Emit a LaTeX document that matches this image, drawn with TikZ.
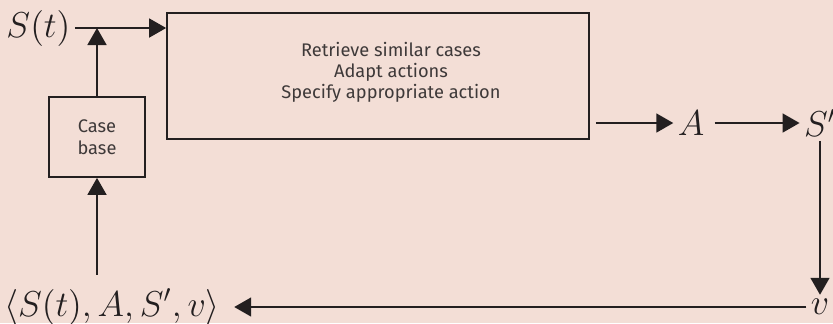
\documentclass[tikz,border=0pt]{standalone}
\usepackage{fontspec}
\newfontfamily\boxfont{Fira Sans}
\usetikzlibrary{arrows.meta, positioning}
\definecolor{bgpink}{RGB}{243,222,214}
\definecolor{inkdark}{RGB}{35,31,32}
\definecolor{boxtext}{RGB}{62,57,57}
\tikzset{
	x=0.4pt, y=-0.4pt,
	flow/.style={-{Triangle[length=6.8pt, width=7.6pt]}, line width=0.7pt, draw=inkdark},
	procbox/.style={draw=inkdark, line width=0.7pt, text=boxtext, align=center,
		font=\boxfont\fontsize{7.3}{8.7}\selectfont},
	mathlbl/.style={text=inkdark, inner sep=1.6pt, font=\fontsize{13.8}{16}\selectfont}
}

\begin{document}
\begin{tikzpicture}
\fill[bgpink] (0,0) rectangle (833,323);
\useasboundingbox (0,0) rectangle (833,323);
% boxes
\node (main) [procbox, minimum width=168.8pt, minimum height=50.4pt] at (378,76) {};
\node (tasks) [text=boxtext, align=center, font=\boxfont\fontsize{7.3}{8.4}\selectfont] at (391,72)
	{Retrieve similar cases\\Adapt actions\\Specify appropriate action};
\node (cb) [procbox, minimum width=38.4pt, minimum height=32pt] at (97,137) {Case\\base};
% labels
\node (st) [mathlbl, anchor=west] at (2,28) {$S(t)$};
\node (act) [mathlbl] at (691,123) {$A$};
\node (snext) [mathlbl] at (820,123) {$S'$};
\node (rew) [mathlbl] at (820,307) {$v$};
\node (tuple) [mathlbl, inner sep=5.5pt] at (112,307) {$\langle S(t), A, S', v\rangle$};
% connectors
\draw[flow] (st.east) -- (st.east -| main.west);
\draw[flow] (cb.north) -- (cb.north |- st.east);
\draw[flow, shorten <=2.4pt] (act.west -| main.east) -- (act.west);
\draw[flow, shorten <=2.4pt] (act.east) -- (snext.west);
\draw[flow] (rew.north |- snext.south) -- (rew.north);
\draw[flow] (rew.west) -- (tuple.east);
\draw[flow] (cb.south |- tuple.north) -- (cb.south);
\end{tikzpicture}
\end{document}
